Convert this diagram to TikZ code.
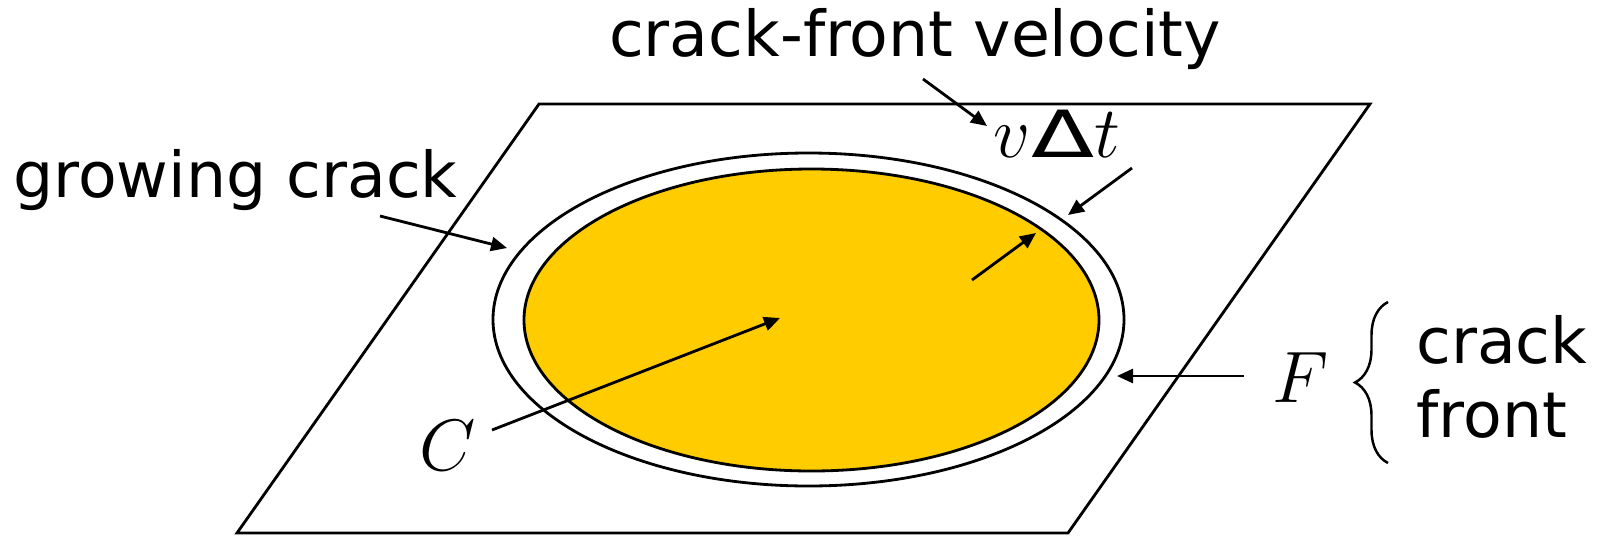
\documentclass[tikz,border=0pt]{standalone}
\usepackage{fontspec}
\usepackage{graphicx}
\setmainfont{DejaVu Sans}
\usetikzlibrary{arrows.meta,decorations.pathreplacing}
\definecolor{crackyellow}{HTML}{FFCC00}

\begin{document}
\begin{tikzpicture}[
  x=0.1mm, y=-0.1mm,
  line width=0.8pt,
  >={Triangle[length=1.6mm,width=1.4mm]},
  lbl/.style={inner sep=0pt, font=\fontsize{18}{22}\selectfont},
  sym/.style={inner sep=0pt, font=\fontsize{20}{24}\selectfont},
  ptr/.style={->, line width=0.8pt},
]
\useasboundingbox (0,0) rectangle (1600,539);

% ===== crack plane =====
\draw[line join=miter] (539,104) -- (1370,104) -- (1068,533) -- (237,533) -- cycle;

% ===== crack now and after one step =====
\draw (808.5,319.5) ellipse [x radius=315.5, y radius=166.5];
\draw[fill=crackyellow] (811.5,320) ellipse [x radius=287.5, y radius=151];

% ===== labels =====
\node[lbl, anchor=base] (vel) at (915,56) {crack-front velocity};
\node[lbl, anchor=base west] (grow) at (12,197) {growing crack};
\node[sym, anchor=base] (vdt) at (1057,157)
  {$v${\fontsize{18.5}{22}\selectfont\scalebox{1.42}[1]{Δ}}$t$};
\node[sym, anchor=base] (cc) at (448,470) {$C$};
\node[sym, anchor=base] (ff) at (1301,402) {$F$};
\node[lbl, anchor=base west] (ck) at (1415,363) {crack};
\node[lbl, anchor=base west] (ft) at (1415,437) {front};
\draw[line width=0.7pt, decorate, decoration={brace, amplitude=3.3mm}]
  (1388,463) -- (1388,302);

% ===== pointers =====
\coordinate (velT) at (923,79);   \coordinate (velH) at (987,126);
\coordinate (dtT)  at (1132,168); \coordinate (dtH)  at (1068,215);
\coordinate (grT)  at (380,216);  \coordinate (grH)  at (507,248);
\coordinate (cT)   at (492,430);  \coordinate (cH)   at (780,318);
\coordinate (inT)  at (972,280);  \coordinate (inH)  at (1036,233);
\coordinate (fT)   at (1244,376); \coordinate (fH)   at (1117,376);
\draw[ptr] (velT) -- (velH);
\draw[ptr] (dtT) -- (dtH);
\draw[ptr] (grT) -- (grH);
\draw[ptr] (cT) -- (cH);
\draw[ptr] (inT) -- (inH);
\draw[ptr] (fT) -- (fH);

\end{tikzpicture}
\end{document}
